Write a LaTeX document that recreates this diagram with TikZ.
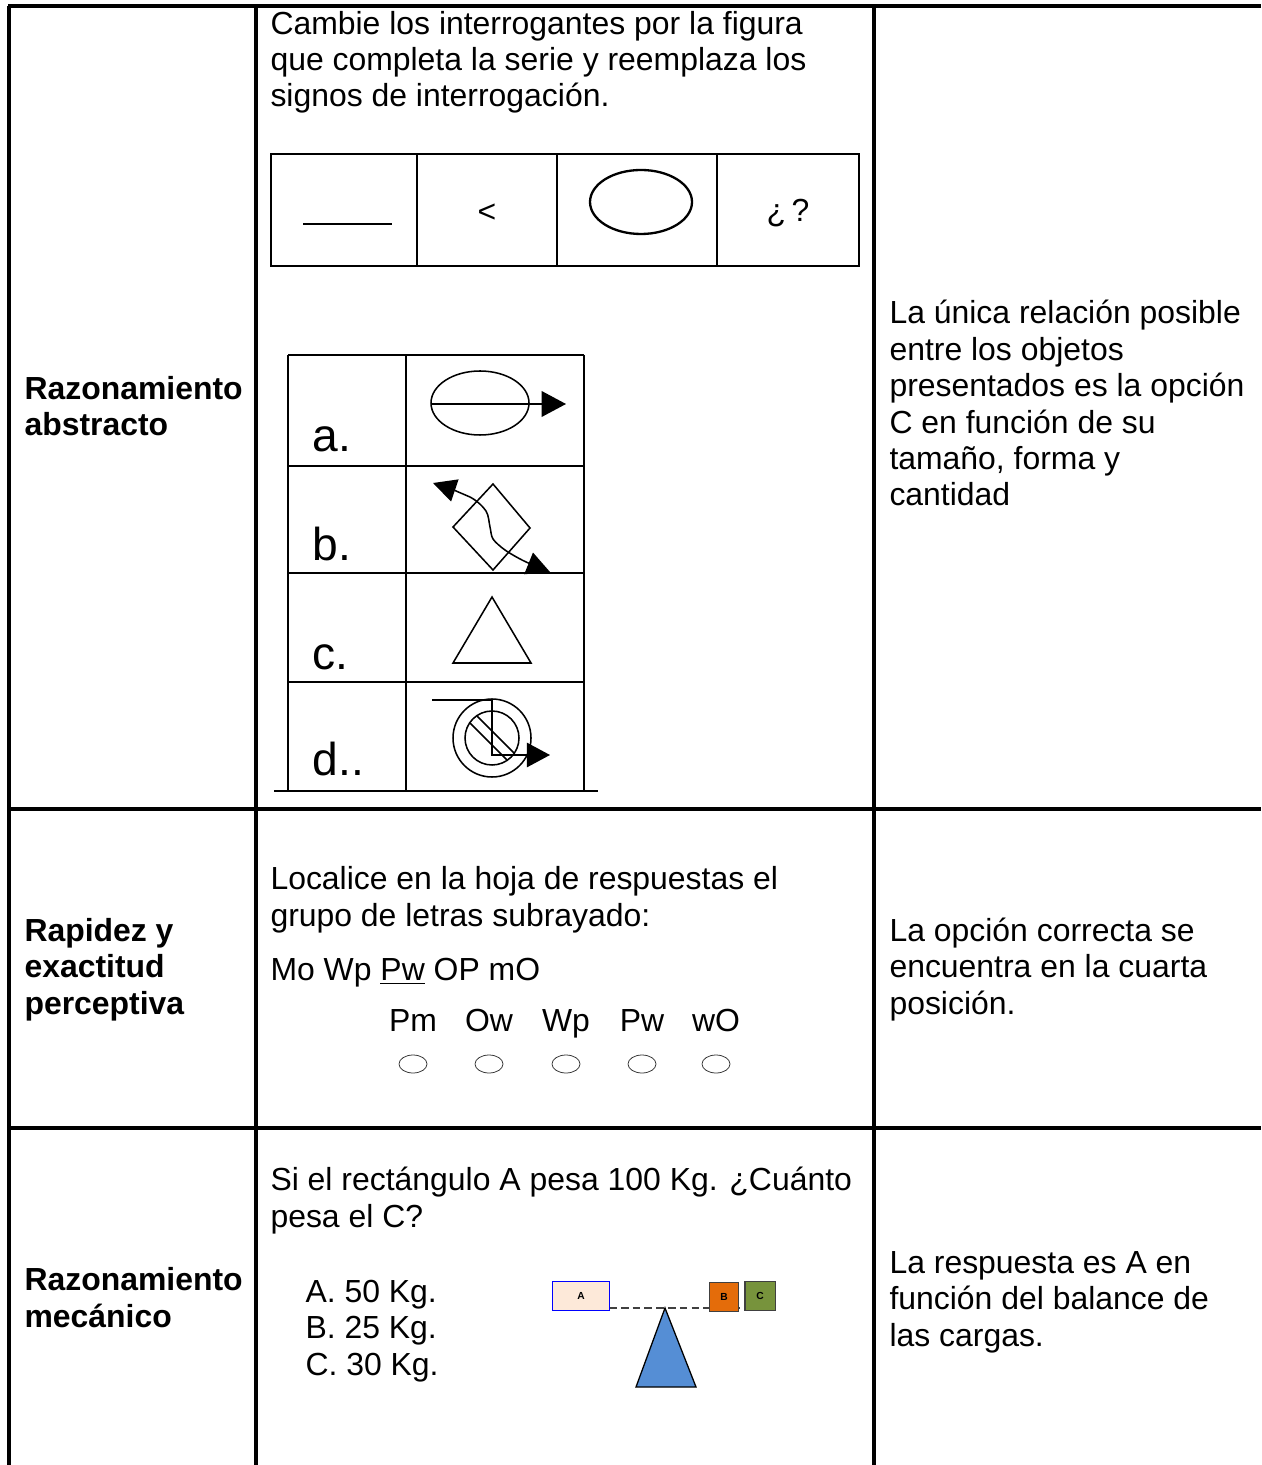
\documentclass[tikz,border=0pt]{standalone}
\usepackage{fontspec}
\setmainfont{Liberation Sans}
\usetikzlibrary{arrows.meta}
\definecolor{peach}{HTML}{FDE9D9}
\definecolor{fulcrum}{HTML}{558ED5}
\definecolor{loadB}{HTML}{E46C0A}
\definecolor{loadC}{HTML}{77933C}
\newcommand\subr[1]{\vtop{\hbox{#1}\kern1.1pt\hrule height 0.65pt}}
\tikzset{
  txt/.style={inner sep=0pt,anchor=base west,align=left,font=\fontsize{12.45}{14.2}\selectfont},
  head/.style={txt,font=\fontsize{12.45}{14.2}\selectfont\bfseries},
  optlabel/.style={inner sep=0pt,anchor=base west,font=\fontsize{18}{20}\selectfont},
  frame/.style={line width=1.2pt},
  cell/.style={line width=0.65pt},
  fig/.style={line width=0.6pt},
  tip/.style={-{Triangle[length=9.5pt,width=10pt]}},
  bubble/.style={line width=0.3pt,draw=black!80},
  load/.style={inner sep=0pt,minimum height=11.3pt,line width=0.5pt,font=\fontsize{4}{5}\selectfont\bfseries},
}

\begin{document}
\begin{tikzpicture}[x=0.39pt,y=-0.39pt]
    \useasboundingbox (0,0) rectangle (1261,1465);
    % outer table
    \draw[frame] (8,6) -- (1261,6);
    \draw[frame] (8,809) -- (1261,809);
    \draw[frame] (8,1128) -- (1261,1128);
    \foreach \x in {9,256,874}
        \draw[frame] (\x,6) -- (\x,1465);

    % first column (nodes sit on the baseline of their last line)
    \node[head] (abs) at (24,436) {Razonamiento\\abstracto};
    \node[head] (rap) at (24,1014) {Rapidez y\\exactitud\\perceptiva};
    \node[head] (mec) at (24,1327) {Razonamiento\\mecánico};

    % row 1: the series
    \node[txt] (q1) at (270,107) {Cambie los interrogantes por la figura\\que completa la serie y reemplaza los\\signos de interrogación.};
    \draw[cell] (271,154) rectangle (859,266);
    \foreach \x in {417,557,717}
        \draw[cell] (\x,154) -- (\x,266);
    \draw[fig] (303,224) -- (392,224);
    \node[txt,anchor=center] (less) at (487,213) {<};
    \draw[line width=0.9pt] (641,202) ellipse (51 and 32);
    \node[txt,anchor=center] (ask) at (788,213) {¿\,?};

    % row 1: the options
    \foreach \y in {355,466,573,682}
        \draw[cell] (288,\y) -- (584,\y);
    \draw[cell] (274,791) -- (598,791);
    \foreach \x in {288,406,584}
        \draw[cell] (\x,355) -- (\x,791);
    \node[optlabel] (oa) at (312,452) {a.};
    \node[optlabel] (ob) at (312,561) {b.};
    \node[optlabel] (oc) at (312,669) {c.};
    \node[optlabel] (od) at (312,775) {d..};
    % a
    \draw[fig] (480,403) ellipse (49 and 32);
    \draw[fig,tip] (432,404) -- (566,404);
    % b
    \draw[fig] (493,484) -- (530,528) -- (493,570) -- (453,527) -- cycle;
    \draw[fig,{Triangle[length=9pt,width=9pt]}-{Triangle[length=9pt,width=9pt]}]
        plot[smooth] coordinates {(433,483) (470,497) (486,511) (490,527) (493,539) (505,550) (524,561) (550,572)};
    % c
    \draw[fig] (492,597) -- (453,663) -- (531,663) -- cycle;
    % d
    \draw[fig] (492,738) circle (39);
    \draw[fig] (492,738) circle (27);
    \draw[fig] (477,716) -- (514,753);
    \draw[fig] (470,723) -- (507,760);
    \draw[fig,-{Triangle[length=9pt,width=9.5pt]}] (432,700) -- (492,700) -- (492,755) -- (550,755);

    % row 2
    \node[txt] (q2) at (270,926) {Localice en la hoja de respuestas el\\grupo de letras subrayado:};
    \node[txt] (seq) at (270,980) {Mo Wp \subr{Pw} OP mO};
    \foreach \w/\x in {Pm/413,Ow/489,Wp/566,Pw/642,wO/716} {
        \node[txt,anchor=base] (w\w) at (\x,1031) {\w};
        \draw[bubble] (\x,1064) ellipse (14 and 9);
    }

    % row 3
    \node[txt] (q3) at (270,1227) {Si el rectángulo A pesa 100 Kg. ¿Cuánto\\pesa el C?};
    \node[txt] (opts) at (305,1375) {A. 50 Kg.\\B. 25 Kg.\\C. 30 Kg.};
    \coordinate (beam) at (740,1308);
    \draw[dashed,dash pattern=on 3pt off 1.6pt,line width=0.6pt,black!75] (609,1308) -- (beam);
    \fill[fulcrum,draw=black,line width=0.5pt] (665,1308) -- (636,1387) -- (696,1387) -- cycle;
    \node[load,draw=blue,fill=peach,minimum width=22pt] (A) at (581,1296) {A};
    \node[load,draw=black!75,fill=loadB,minimum width=11.5pt] (B) at (724,1297) {B};
    \node[load,draw=black!75,fill=loadC,minimum width=11.8pt] (C) at (760,1296) {C};

    % third column
    \node[txt] (ans1) at (889,506) {La única relación posible\\entre los objetos\\presentados es la opción\\C en función de su\\tamaño, forma y\\cantidad};
    \node[txt] (ans2) at (889,1014) {La opción correcta se\\encuentra en la cuarta\\posición.};
    \node[txt] (ans3) at (889,1346) {La respuesta es A en\\función del balance de\\las cargas.};
\end{tikzpicture}
\end{document}
